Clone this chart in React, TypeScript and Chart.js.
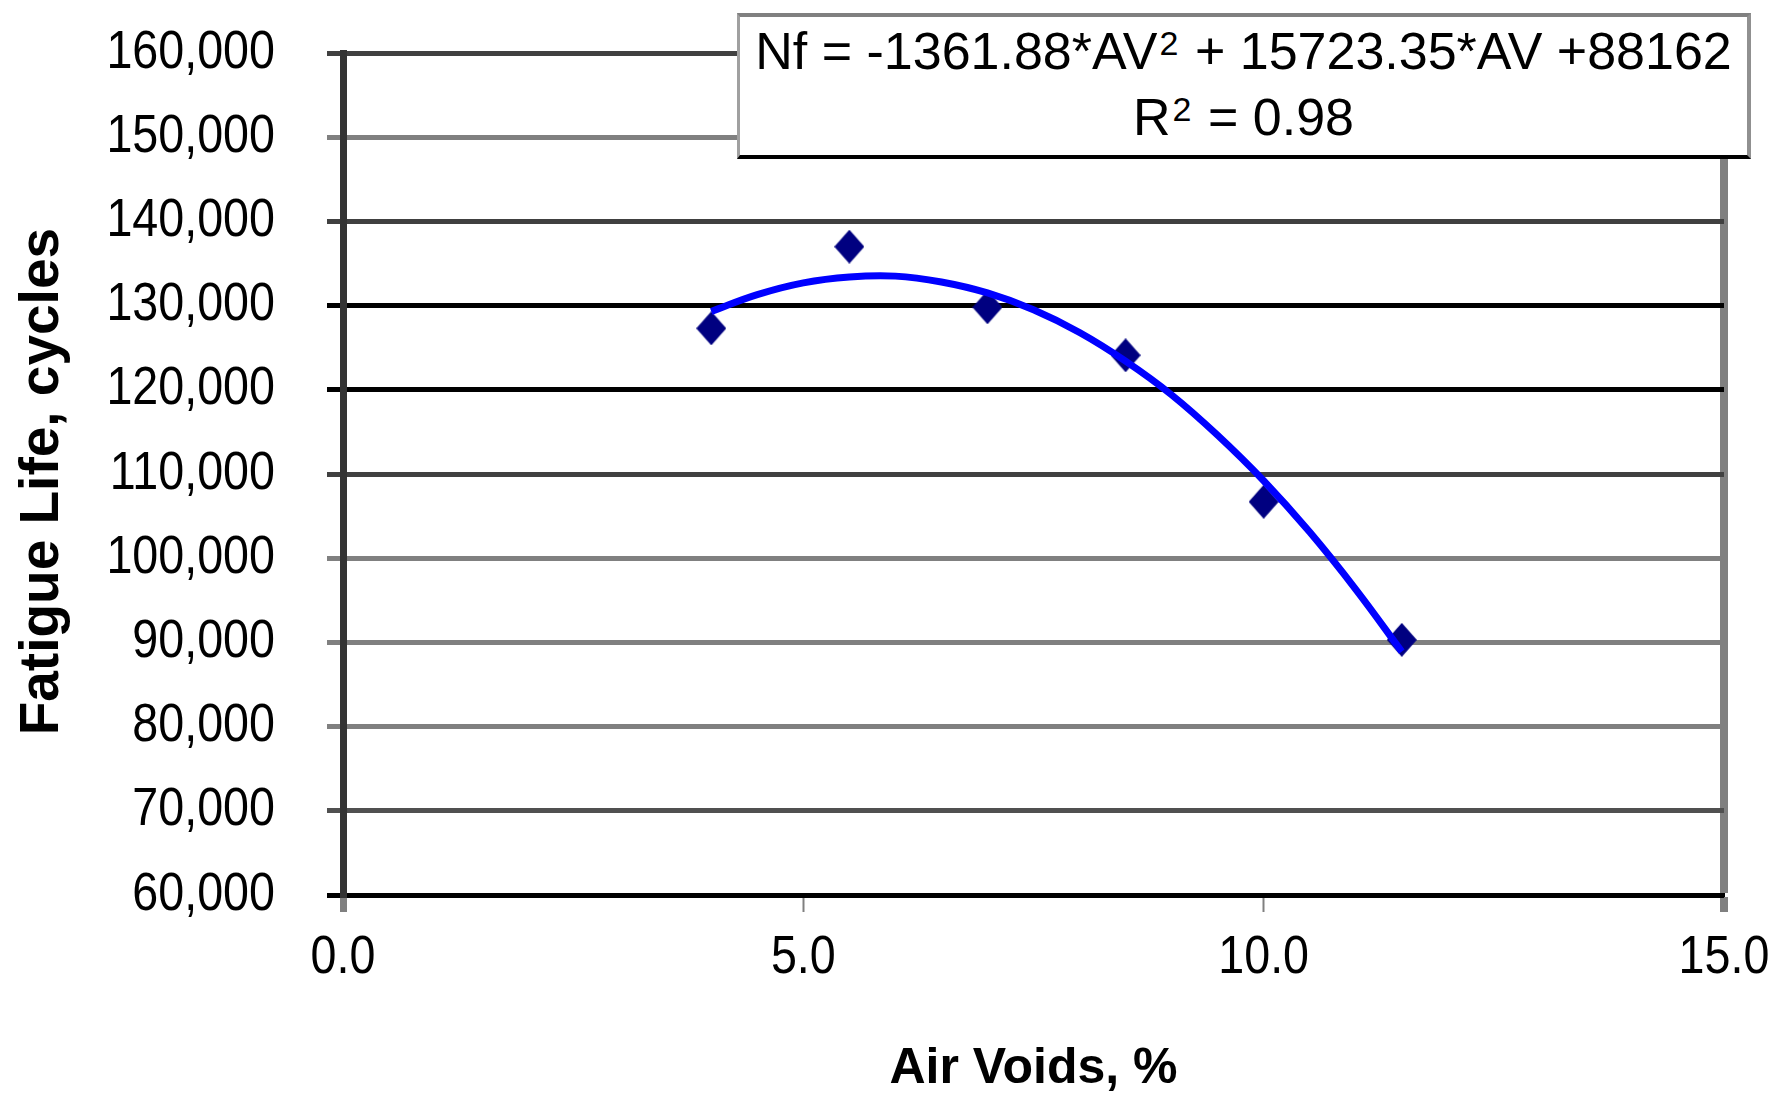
import React, { useEffect, useRef } from 'react';
import { Chart, registerables } from 'chart.js';

Chart.register(...registerables);

// ---- data ----
const airVoids = [4.0, 5.5, 7.0, 8.5, 10.0, 11.5];
const fatigueLife = [127300, 137000, 129800, 124100, 106700, 90300];

// trend curve (polynomial fit drawn in the reference), read at 0.5 % steps
const trendAirVoids = [4.0, 4.5, 5.0, 5.5, 6.0, 6.5, 7.0, 7.5, 8.0, 8.5, 9.0, 9.5, 10.0, 10.5, 11.0, 11.5];
const trendFatigueLife = [129300, 131300, 132700, 133400, 133500, 132800, 131500, 129500, 126800, 123400, 119400, 114600, 109200, 103100, 96300, 88900];

const xTickLabels = ['0.0', '5.0', '10.0', '15.0'];
const yTickLabels = ['60,000', '70,000', '80,000', '90,000', '100,000', '110,000', '120,000', '130,000', '140,000', '150,000', '160,000'];
const yGridColors = ['#000000', '#505050', '#808080', '#808080', '#808080', '#404040', '#000000', '#000000', '#404040', '#808080', '#404040'];

// tick labels of the reference are a slightly condensed Arial-like face
const CONDENSE = 0.88;
const TICK_FAMILY = "CondensedTag, 'Liberation Sans', Arial, sans-serif";
const BOLD = "'Liberation Sans', Arial, sans-serif";
const BOX_FAMILY = "'Liberation Sans', Arial, sans-serif";

const condensePlugin = {
  id: 'condenseText',
  beforeDraw(chart: any) {
    const ctx = chart.ctx as any;
    if (ctx.__condensed) return;
    const orig = ctx.fillText.bind(ctx);
    ctx.fillText = function (text: string, x: number, y: number, maxWidth?: number) {
      if (String(ctx.font).indexOf('CondensedTag') >= 0) {
        ctx.save();
        ctx.translate(x, y);
        ctx.scale(CONDENSE, 1);
        if (maxWidth === undefined) orig(text, 0, 0);
        else orig(text, 0, 0, maxWidth / CONDENSE);
        ctx.restore();
      } else if (maxWidth === undefined) {
        orig(text, x, y);
      } else {
        orig(text, x, y, maxWidth);
      }
    };
    ctx.__condensed = true;
  },
};

function makeDiamond(): HTMLCanvasElement {
  const w = 30;
  const h = 34;
  const c = document.createElement('canvas');
  c.width = w;
  c.height = h;
  const g = c.getContext('2d')!;
  g.fillStyle = '#000080';
  g.beginPath();
  g.moveTo(w / 2, 0);
  g.lineTo(w, h / 2);
  g.lineTo(w / 2, h);
  g.lineTo(0, h / 2);
  g.closePath();
  g.fill();
  return c;
}

const supStyle: React.CSSProperties = {
  fontSize: 34,
  position: 'relative',
  top: -14,
  lineHeight: 0,
  marginLeft: 2,
  marginRight: 2,
};

export default function App() {
  const ref = useRef<HTMLCanvasElement | null>(null);

  useEffect(() => {
    if (!ref.current) return;
    const diamond = makeDiamond();
    const chart = new Chart(ref.current, {
      type: 'scatter',
      plugins: [condensePlugin],
      data: {
        datasets: [
          {
            label: 'Trend',
            data: trendAirVoids.map((x, i) => ({ x, y: trendFatigueLife[i] })),
            showLine: true,
            borderColor: '#0000FF',
            borderWidth: 7,
            pointRadius: 0,
            tension: 0.4,
            fill: false,
          },
          {
            label: 'Fatigue Life',
            data: airVoids.map((x, i) => ({ x, y: fatigueLife[i] })),
            pointStyle: diamond as any,
            pointRadius: 15,
            backgroundColor: '#000080',
            borderColor: '#000080',
            showLine: false,
          },
        ],
      },
      options: {
        responsive: false,
        animation: false,
        layout: { padding: { top: 53, right: 53, left: 0, bottom: 0 } },
        plugins: { legend: { display: false }, tooltip: { enabled: false } },
        scales: {
          x: {
            type: 'linear',
            min: 0,
            max: 15,
            afterFit: (s: any) => {
              s.height = 199;
              s.paddingLeft = 0;
              s.paddingRight = 0;
            },
            ticks: {
              stepSize: 5,
              autoSkip: false,
              maxRotation: 0,
              padding: 15,
              color: '#000',
              font: { family: TICK_FAMILY, size: 53 },
              callback: (_v: any, i: number) => xTickLabels[i],
            },
            grid: {
              drawOnChartArea: true,
              drawTicks: true,
              tickLength: 17,
              tickColor: '#808080',
              tickWidth: (ctx: any) => (ctx.tick && ctx.tick.value === 0 ? 7 : ctx.tick && ctx.tick.value === 15 ? 8 : 2),
              color: (ctx: any) => (ctx.tick && ctx.tick.value === 15 ? '#808080' : 'rgba(0,0,0,0)'),
              lineWidth: (ctx: any) => (ctx.tick && ctx.tick.value === 15 ? 8 : 1),
            },
            border: { display: true, color: '#000', width: 4 },
            title: {
              display: true,
              text: 'Air Voids, %',
              color: '#000',
              font: { family: BOLD, size: 50, weight: 'bold', lineHeight: 1.0 },
              padding: { top: 0, bottom: 0 },
            },
          },
          y: {
            type: 'linear',
            min: 60000,
            max: 160000,
            afterFit: (s: any) => {
              s.width = 343;
              s.paddingTop = 0;
              s.paddingBottom = 0;
            },
            ticks: {
              stepSize: 10000,
              padding: 52,
              color: '#000',
              font: { family: TICK_FAMILY, size: 53 },
              callback: (_v: any, i: number) => yTickLabels[i],
            },
            grid: {
              color: yGridColors,
              tickColor: yGridColors,
              lineWidth: 5,
              tickLength: 16,
            },
            border: { display: true, color: '#333333', width: 7 },
            title: {
              display: true,
              text: 'Fatigue Life, cycles ',
              color: '#000',
              font: { family: BOLD, size: 55, weight: 'bold' },
              padding: { top: 10, bottom: 0 },
            },
          },
        },
      },
    });
    return () => chart.destroy();
  }, []);

  return (
    <div style={{ position: 'absolute', left: 0, top: 0, width: 1777, height: 1094, background: '#fff' }}>
      <canvas ref={ref} width={1777} height={1094} style={{ display: 'block' }} />
      <div
        style={{
          position: 'absolute',
          left: 737,
          top: 13,
          width: 1014,
          height: 146,
          boxSizing: 'border-box',
          background: '#fff',
          borderTop: '4px solid #808080',
          borderLeft: '3px solid #a0a0a0',
          borderRight: '4px solid #909090',
          borderBottom: '4px solid #000',
          fontFamily: BOX_FAMILY,
          fontSize: 52,
          lineHeight: '66px',
          color: '#000',
          textAlign: 'center',
          paddingTop: 1,
          whiteSpace: 'nowrap',
        }}
      >
        <div>
          Nf = -1361.88*AV<span style={supStyle}>2</span> + 15723.35*AV +88162
        </div>
        <div>
          R<span style={supStyle}>2</span> = 0.98
        </div>
      </div>
    </div>
  );
}
